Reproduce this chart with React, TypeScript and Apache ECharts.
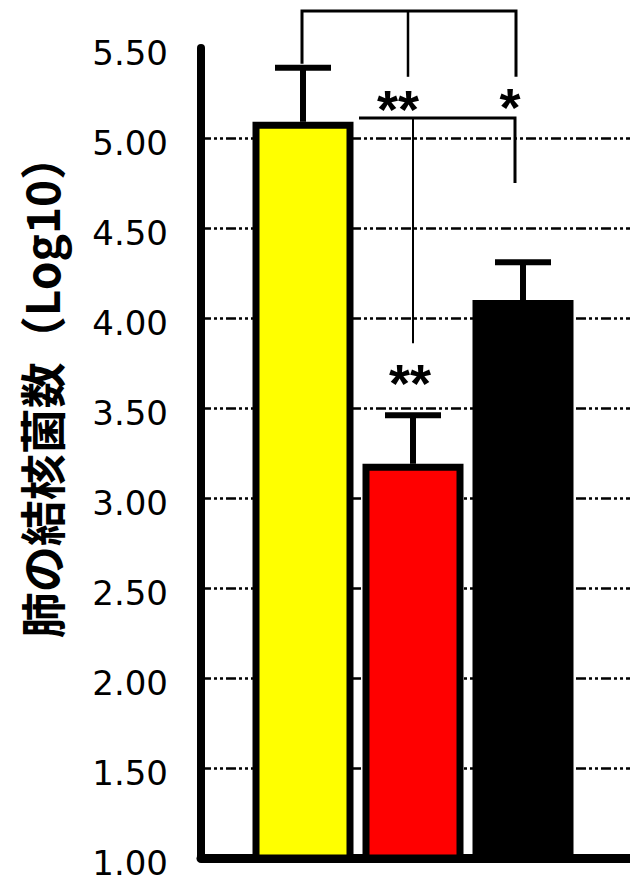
import React, { useEffect, useRef } from "react";
import * as echarts from "echarts";

// ---- data ----
const categories = ["対照", "群A", "群B"];
const barValues = [5.09, 3.19, 4.1];
const errorHighs = [5.39, 3.46, 4.31];
const barColors = ["#ffff00", "#ff0000", "#000000"];
const yMin = 1;
const yMax = 5.5;
const yInterval = 0.5;
const gridLineMax = 5.0;
const yTitle = "肺の結核菌数（Log10）";
const sigTopPair = "**";
const sigTopSingle = "*";
const sigRed = "**";

export default function App() {
  const ref = useRef<HTMLDivElement>(null);

  useEffect(() => {
    document.body.style.margin = "0";
    const chart = echarts.init(ref.current!, null, { renderer: "svg" });

    const option: any = {
      animation: false,
      backgroundColor: "#ffffff",
      grid: [
        { left: 201, right: 0, top: 48, bottom: 29 },
        { left: 201, right: 0, top: 138, bottom: 29 },
        { left: 248, right: 52, top: 48, bottom: 29 },
      ],
      xAxis: [
        {
          gridIndex: 0,
          type: "value",
          min: 0,
          max: 1,
          axisLine: { show: true, onZero: false, lineStyle: { color: "#000", width: 9 } },
          axisTick: { show: false },
          axisLabel: { show: false },
          splitLine: { show: false },
        },
        {
          gridIndex: 1,
          type: "value",
          min: 0,
          max: 1,
          axisLine: { show: false },
          axisTick: { show: false },
          axisLabel: { show: false },
          splitLine: { show: false },
        },
        {
          gridIndex: 2,
          type: "category",
          data: categories,
          show: false,
        },
      ],
      yAxis: [
        {
          gridIndex: 0,
          type: "value",
          min: yMin,
          max: yMax,
          interval: yInterval,
          axisLine: { show: true, onZero: false, lineStyle: { color: "#000", width: 8 } },
          axisTick: { show: false },
          splitLine: { show: false },
          axisLabel: {
            formatter: (v: number) => "{t|" + v.toFixed(2) + "}",
            margin: 33,
            rich: {
              t: {
                color: "#000",
                fontFamily: "DejaVu Sans",
                fontSize: 34,
                padding: [9, 0, 0, 0],
              },
            },
          },
        },
        {
          gridIndex: 1,
          type: "value",
          min: yMin,
          max: gridLineMax,
          interval: yInterval,
          axisLine: { show: false },
          axisTick: { show: false },
          axisLabel: { show: false },
          splitLine: {
            show: true,
            lineStyle: { color: "#000", width: 2.5, type: [10, 3, 3, 3, 3, 3] },
          },
        },
        {
          gridIndex: 2,
          type: "value",
          min: yMin,
          max: yMax,
          show: false,
        },
      ],
      series: [
        {
          type: "bar",
          xAxisIndex: 2,
          yAxisIndex: 2,
          barWidth: 101,
          data: barValues.map((v, i) => ({
            value: v,
            itemStyle: { color: barColors[i], borderColor: "#000", borderWidth: 7 },
          })),
          z: 3,
        },
        {
          type: "custom",
          xAxisIndex: 2,
          yAxisIndex: 2,
          z: 4,
          encode: { x: 0, y: [1, 2] },
          data: barValues.map((v, i) => [i, v, errorHighs[i]]),
          renderItem: (params: any, api: any) => {
            const base = api.coord([api.value(0), api.value(1)]);
            const top = api.coord([api.value(0), api.value(2)]);
            return {
              type: "group",
              children: [
                {
                  type: "line",
                  shape: { x1: base[0], y1: base[1], x2: base[0], y2: top[1] },
                  style: { stroke: "#000", lineWidth: 6 },
                },
                {
                  type: "line",
                  shape: { x1: base[0] - 28, y1: top[1], x2: base[0] + 28, y2: top[1] },
                  style: { stroke: "#000", lineWidth: 6 },
                },
              ],
            };
          },
        },
      ],
    };
    chart.setOption(option);

    const px = (i: number, v: number) =>
      chart.convertToPixel({ xAxisIndex: 2, yAxisIndex: 2 }, [i, v]) as number[];
    const cx = categories.map((_, i) => px(i, yMin)[0]);
    const capY = errorHighs.map((v, i) => px(i, v)[1]);

    const topY = 11;
    const midY = 118;
    const lineStyle = { stroke: "#000", lineWidth: 2.5, fill: "none" };
    const starStyle = {
      fontFamily: "Liberation Sans",
      fontWeight: "bold",
      fontSize: 54,
      fill: "#000",
      align: "center",
      verticalAlign: "middle",
    };

    const graphic: any[] = [
      {
        type: "text",
        x: 40,
        y: 386,
        rotation: Math.PI / 2,
        style: {
          text: yTitle,
          fontFamily: "Noto Sans CJK JP",
          fontWeight: "bold",
          fontSize: 46,
          fill: "#000",
          align: "center",
          verticalAlign: "middle",
        },
      },
      // top bracket
      {
        type: "polyline",
        shape: {
          points: [
            [cx[0] - 1, capY[0] - 4],
            [cx[0] - 1, topY],
            [cx[2] - 7, topY],
            [cx[2] - 7, capY[0] + 9],
          ],
        },
        style: { ...lineStyle, lineWidth: 3 },
      },
      {
        type: "line",
        shape: { x1: cx[1] - 5, y1: topY, x2: cx[1] - 5, y2: capY[0] + 9 },
        style: lineStyle,
      },
      // second bracket
      {
        type: "polyline",
        shape: {
          points: [
            [cx[1] - 54, midY],
            [cx[2] - 8, midY],
            [cx[2] - 8, 183],
          ],
        },
        style: { ...lineStyle, lineWidth: 3 },
      },
      {
        type: "line",
        shape: { x1: cx[1], y1: midY, x2: cx[1], y2: capY[1] - 72 },
        style: { ...lineStyle, lineWidth: 2 },
      },
      {
        type: "text",
        x: cx[1] - 15,
        y: 109,
        style: { ...starStyle, text: sigTopPair },
      },
      {
        type: "text",
        x: cx[2] - 13,
        y: 107,
        style: { ...starStyle, text: sigTopSingle },
      },
      {
        type: "text",
        x: cx[1] - 3,
        y: 383,
        style: { ...starStyle, text: sigRed },
      },
    ];
    chart.setOption({ graphic });

    return () => chart.dispose();
  }, []);

  return <div ref={ref} style={{ width: 630, height: 887 }} />;
}
